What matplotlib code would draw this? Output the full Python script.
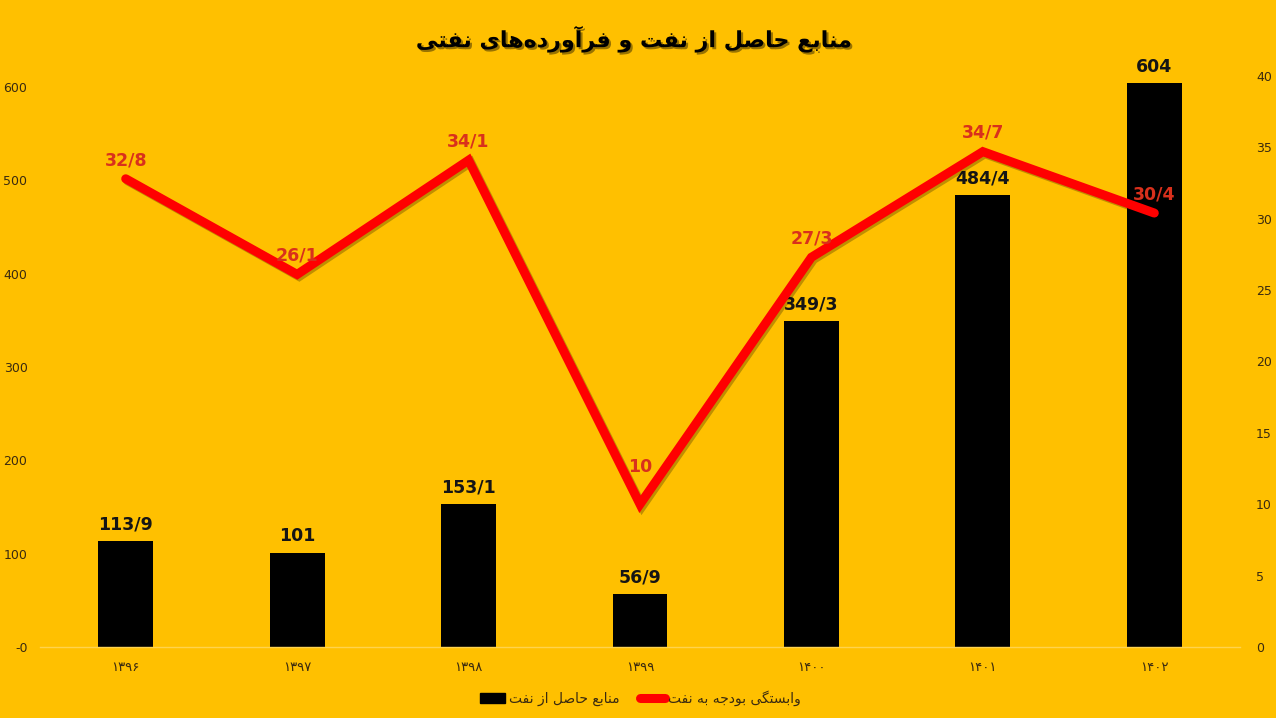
import matplotlib
matplotlib.use('Agg')
import matplotlib.pyplot as plt
from matplotlib.lines import Line2D
from matplotlib.patches import Patch
import matplotlib.patheffects as pe

years = ['۱۳۹۶', '۱۳۹۷', '۱۳۹۸', '۱۳۹۹', '۱۴۰۰', '۱۴۰۱', '۱۴۰۲']
oil_income = [113.9, 101, 153.1, 56.9, 349.3, 484.4, 604]
oil_income_labels = ['113/9', '101', '153/1', '56/9', '349/3', '484/4', '604']
dependence = [32.8, 26.1, 34.1, 10, 27.3, 34.7, 30.4]
dependence_labels = ['32/8', '26/1', '34/1', '10', '27/3', '34/7', '30/4']
left_ticks = [0, 100, 200, 300, 400, 500, 600]
left_tick_labels = ['-0', '100', '200', '300', '400', '500', '600']
right_ticks = [0, 5, 10, 15, 20, 25, 30, 35, 40]

title = 'منابع حاصل از نفت و فرآورده‌های نفتی'
bar_name = 'منابع حاصل از نفت'
line_name = 'وابستگی بودجه به نفت'

# presentation forms: isolated, final, initial, medial (None = joins only to the right)
FORMS = {
    'ا': ('\uFE8D', '\uFE8E', None, None),
    'آ': ('\uFE81', '\uFE82', None, None),
    'ب': ('\uFE8F', '\uFE90', '\uFE91', '\uFE92'),
    'ت': ('\uFE95', '\uFE96', '\uFE97', '\uFE98'),
    'ج': ('\uFE9D', '\uFE9E', '\uFE9F', '\uFEA0'),
    'ح': ('\uFEA1', '\uFEA2', '\uFEA3', '\uFEA4'),
    'د': ('\uFEA9', '\uFEAA', None, None),
    'ر': ('\uFEAD', '\uFEAE', None, None),
    'ز': ('\uFEAF', '\uFEB0', None, None),
    'س': ('\uFEB1', '\uFEB2', '\uFEB3', '\uFEB4'),
    'ص': ('\uFEB9', '\uFEBA', '\uFEBB', '\uFEBC'),
    'ع': ('\uFEC9', '\uFECA', '\uFECB', '\uFECC'),
    'ف': ('\uFED1', '\uFED2', '\uFED3', '\uFED4'),
    'ل': ('\uFEDD', '\uFEDE', '\uFEDF', '\uFEE0'),
    'م': ('\uFEE1', '\uFEE2', '\uFEE3', '\uFEE4'),
    'ن': ('\uFEE5', '\uFEE6', '\uFEE7', '\uFEE8'),
    'ه': ('\uFEE9', '\uFEEA', '\uFEEB', '\uFEEC'),
    'و': ('\uFEED', '\uFEEE', None, None),
    'ی': ('\uFBFC', '\uFBFD', '\uFBFE', '\uFBFF'),
    'گ': ('\uFB92', '\uFB93', '\uFB94', '\uFB95'),
}


def shape(text):
    # join the letters by hand and put them in visual (right-to-left) order
    out = []
    for i, c in enumerate(text):
        if c == '\u200c':
            continue
        if c not in FORMS:
            out.append(c)
            continue
        prev = text[i - 1] if i > 0 else None
        nxt = text[i + 1] if i + 1 < len(text) else None
        iso, fin, ini, med = FORMS[c]
        join_prev = prev in FORMS and FORMS[prev][2] is not None
        join_next = ini is not None and nxt in FORMS
        if join_prev and join_next:
            out.append(med)
        elif join_prev:
            out.append(fin)
        elif join_next:
            out.append(ini)
        else:
            out.append(iso)
    return ''.join(reversed(out))


bg = '#FFC000'
plt.rcParams['font.family'] = ['DejaVu Sans']

fig = plt.figure(figsize=(12.76, 7.18), dpi=100, facecolor=bg)
ax = fig.add_axes([40 / 1276, 71 / 718, 1200 / 1276, 571 / 718])
ax.set_facecolor(bg)
ax2 = ax.twinx()

x = list(range(len(years)))
ax.bar(x, oil_income, width=0.32, color='black', zorder=2)
for xi, v, lab in zip(x, oil_income, oil_income_labels):
    ax.annotate(lab, (xi, v), xytext=(0, 12), textcoords='offset points',
                ha='center', va='center', fontsize=12.5, fontweight='bold',
                color='#151515')

ax.set_xlim(-0.5, len(years) - 0.5)
ax.set_ylim(0, 612)
ax.set_yticks(left_ticks)
ax.set_yticklabels(left_tick_labels)
ax.set_xticks(x)
ax.set_xticklabels(years)
ax.tick_params(axis='y', length=0, labelsize=9, labelcolor='#3a2a10', pad=9)
ax.tick_params(axis='x', length=0, labelsize=9.5, labelcolor='#3a2a10', pad=10)
for s in ['top', 'left', 'right']:
    ax.spines[s].set_visible(False)
ax.spines['bottom'].set_color('#FFD34D')
ax.spines['bottom'].set_linewidth(1)

ax2.plot(x, dependence, color='#FF0000', lw=6.5, solid_capstyle='round',
         solid_joinstyle='miter', zorder=3,
         path_effects=[pe.SimpleLineShadow(offset=(1.5, -1.5), alpha=0.25), pe.Normal()])
for xi, v, lab in zip(x, dependence, dependence_labels):
    # the lowest point's label sits higher, clear of the V
    dy = 27 if v == min(dependence) else 13.5
    ax2.annotate(lab, (xi, v), xytext=(0, dy), textcoords='offset points',
                 ha='center', va='center', fontsize=12.5, fontweight='bold',
                 color='#D9301C')
ax2.set_ylim(0, 40)
ax2.set_yticks(right_ticks)
ax2.tick_params(axis='y', length=0, labelsize=9, labelcolor='#3a2a10', pad=11.5)
for s in ['top', 'left', 'right', 'bottom']:
    ax2.spines[s].set_visible(False)

fig.text(0.497, 0.945, shape(title), ha='center', va='center', fontsize=16,
         fontweight='bold', color='black',
         path_effects=[pe.withSimplePatchShadow(offset=(1.5, -1.5), alpha=0.4)])

handles = [Patch(facecolor='black', edgecolor='black'),
           Line2D([0], [0], color='#FF0000', lw=6.5, solid_capstyle='round')]
fig.legend(handles, [shape(bar_name), shape(line_name)], loc='center',
           bbox_to_anchor=(0.502, 0.028), ncol=2, frameon=False, fontsize=10,
           handlelength=1.8, handletextpad=0.25, columnspacing=1.45,
           labelcolor='#3a2a10')

fig.savefig('out.png', dpi=100, facecolor=bg)
